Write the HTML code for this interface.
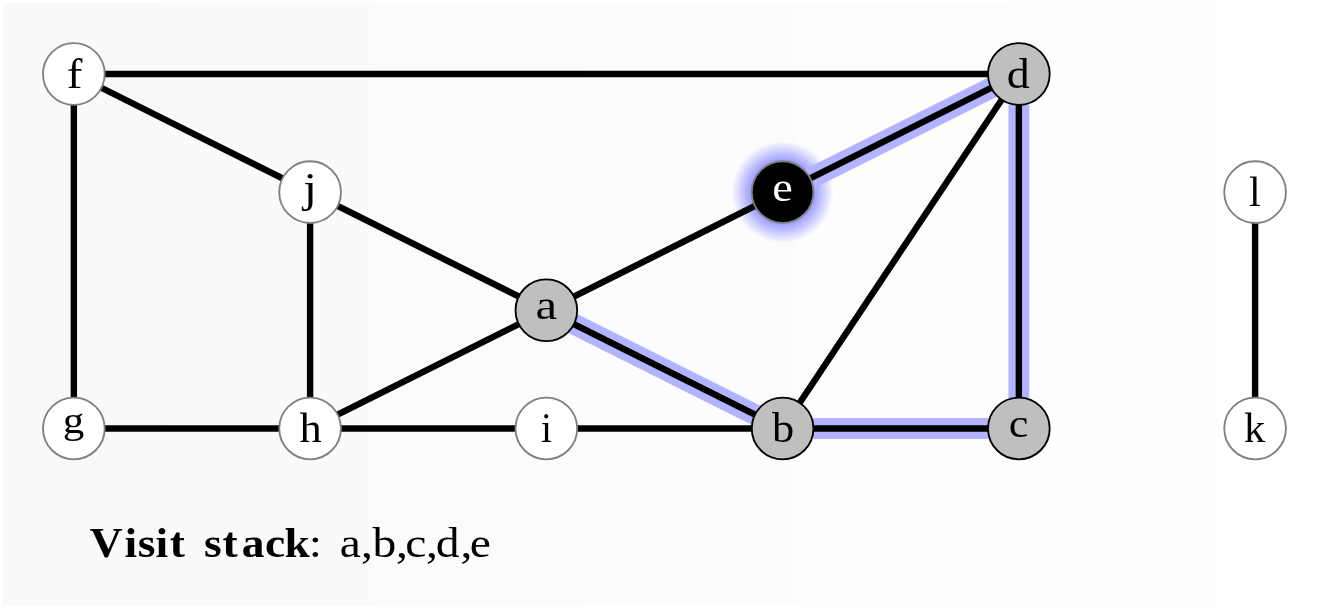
<!DOCTYPE html>
<html><head><meta charset="utf-8"><title>Visit stack</title>
<style>
html,body{margin:0;padding:0;background:#fff;}
body{width:1330px;height:609px;overflow:hidden;position:relative;font-family:"Liberation Serif",serif;}
#bg{position:absolute;left:3px;top:3px;width:1327px;height:603px;background:linear-gradient(to right,rgb(248,249,251) 0px,rgb(248,249,251) 158px,rgb(249,250,252) 158px,rgb(249,250,252) 369px,rgb(250,251,252) 369px,rgb(250,251,252) 581px,rgb(252,252,253) 581px,rgb(252,252,253) 793px,rgb(253,253,254) 793px,rgb(253,253,254) 1005px,rgb(254,254,254) 1005px,rgb(254,254,254) 1217px,rgb(255,255,255) 1217px,rgb(255,255,255) 1327px);}
svg{position:absolute;left:0;top:0;will-change:transform;}
text{font-family:"Liberation Serif",serif;}
</style></head><body>
<div id="bg"></div>
<svg width="1330" height="609" viewBox="0 0 1330 609">
<defs>
<radialGradient id="glow" cx="50%" cy="50%" r="50%">
<stop offset="0" stop-color="#9c9cff" stop-opacity="1"/>
<stop offset="0.61" stop-color="#9c9cff" stop-opacity="1"/>
<stop offset="1" stop-color="#9c9cff" stop-opacity="0"/>
</radialGradient>
</defs>
<circle cx="782.60" cy="192.15" r="51" fill="url(#glow)"/>
<g stroke="#b3b3ff" stroke-width="20.9" stroke-linecap="butt">
<line x1="573.54" y1="323.90" x2="755.41" y2="414.85"/>
<line x1="813.00" y1="428.45" x2="988.45" y2="428.45"/>
<line x1="1018.85" y1="398.05" x2="1018.85" y2="104.40"/>
<line x1="809.79" y1="178.55" x2="991.66" y2="87.60"/>
</g>
<g stroke="#000" stroke-width="6.4">
<line x1="73.85" y1="74.00" x2="1018.85" y2="74.00"/>
<line x1="73.85" y1="74.00" x2="310.10" y2="192.15"/>
<line x1="73.85" y1="74.00" x2="73.85" y2="428.45"/>
<line x1="310.10" y1="192.15" x2="546.35" y2="310.30"/>
<line x1="310.10" y1="192.15" x2="310.10" y2="428.45"/>
<line x1="310.10" y1="428.45" x2="546.35" y2="310.30"/>
<line x1="73.85" y1="428.45" x2="310.10" y2="428.45"/>
<line x1="310.10" y1="428.45" x2="546.35" y2="428.45"/>
<line x1="546.35" y1="428.45" x2="782.60" y2="428.45"/>
<line x1="546.35" y1="310.30" x2="782.60" y2="192.15"/>
<line x1="546.35" y1="310.30" x2="782.60" y2="428.45"/>
<line x1="782.60" y1="428.45" x2="1018.85" y2="74.00"/>
<line x1="782.60" y1="428.45" x2="1018.85" y2="428.45"/>
<line x1="1018.85" y1="428.45" x2="1018.85" y2="74.00"/>
<line x1="782.60" y1="192.15" x2="1018.85" y2="74.00"/>
<line x1="1255.10" y1="192.15" x2="1255.10" y2="428.45"/>
</g>
<circle cx="73.85" cy="74.00" r="30.85" fill="#ffffff" stroke="#808080" stroke-width="1.85"/>
<text transform="translate(74.58,88.30) scale(1.119,0.998)" font-size="42" text-anchor="middle" fill="#000000">f</text>
<circle cx="1018.85" cy="74.00" r="30.85" fill="#bfbfbf" stroke="#000000" stroke-width="1.85"/>
<text transform="translate(1018.30,88.09) scale(1.091,0.998)" font-size="42" text-anchor="middle" fill="#000000">d</text>
<circle cx="310.10" cy="192.15" r="30.85" fill="#ffffff" stroke="#808080" stroke-width="1.85"/>
<text transform="translate(310.18,201.67) scale(1.176,0.988)" font-size="42" text-anchor="middle" fill="#000000">j</text>
<circle cx="782.60" cy="192.15" r="30.85" fill="#000000" stroke="#808080" stroke-width="1.85"/>
<text transform="translate(782.53,201.10) scale(1.102,0.97)" font-size="42" text-anchor="middle" fill="#ffffff">e</text>
<circle cx="1255.10" cy="192.15" r="30.85" fill="#ffffff" stroke="#808080" stroke-width="1.85"/>
<text transform="translate(1254.95,206.05) scale(1.0,1.004)" font-size="42" text-anchor="middle" fill="#000000">l</text>
<circle cx="546.35" cy="310.30" r="30.85" fill="#bfbfbf" stroke="#000000" stroke-width="1.85"/>
<text transform="translate(546.38,318.81) scale(1.157,0.949)" font-size="42" text-anchor="middle" fill="#000000">a</text>
<circle cx="73.85" cy="428.45" r="30.85" fill="#ffffff" stroke="#808080" stroke-width="1.85"/>
<text transform="translate(73.43,433.27) scale(1.027,0.9)" font-size="42" text-anchor="middle" fill="#000000">g</text>
<circle cx="310.10" cy="428.45" r="30.85" fill="#ffffff" stroke="#808080" stroke-width="1.85"/>
<text transform="translate(310.48,442.30) scale(1.058,1.005)" font-size="42" text-anchor="middle" fill="#000000">h</text>
<circle cx="546.35" cy="428.45" r="30.85" fill="#ffffff" stroke="#808080" stroke-width="1.85"/>
<text transform="translate(546.44,442.30) scale(0.946,1.014)" font-size="42" text-anchor="middle" fill="#000000">i</text>
<circle cx="782.60" cy="428.45" r="30.85" fill="#bfbfbf" stroke="#000000" stroke-width="1.85"/>
<text transform="translate(783.10,442.09) scale(1.057,0.998)" font-size="42" text-anchor="middle" fill="#000000">b</text>
<circle cx="1018.85" cy="428.45" r="30.85" fill="#bfbfbf" stroke="#000000" stroke-width="1.85"/>
<text transform="translate(1018.49,436.81) scale(1.048,0.955)" font-size="42" text-anchor="middle" fill="#000000">c</text>
<circle cx="1255.10" cy="428.45" r="30.85" fill="#ffffff" stroke="#808080" stroke-width="1.85"/>
<text transform="translate(1254.60,442.30) scale(1.01,1.005)" font-size="42" text-anchor="middle" fill="#000000">k</text>
<text transform="scale(1.083,1)" x="82.90 115.06 127.26 143.55 156.66 172.47 188.29 205.55 223.12 244.73 262.71" y="557" font-size="42" font-weight="bold" fill="#000">Visit stack</text>
<text transform="scale(1.132,1)" x="272.74 286.48 300.21 318.82 329.08 349.82 358.06 376.41 384.94 406.71 414.96" y="557" font-size="42" fill="#000">: a,b,c,d,e</text>
</svg>
</body></html>
